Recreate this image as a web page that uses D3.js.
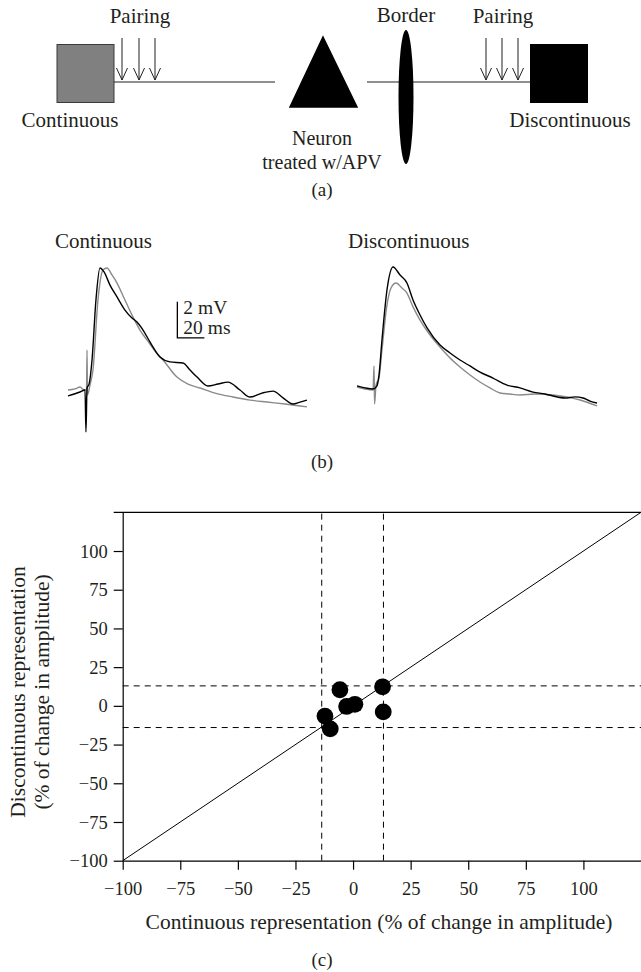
<!DOCTYPE html>
<html><head><meta charset="utf-8">
<script src="https://cdn.jsdelivr.net/npm/d3@7"></script>
<style>
body{margin:0;background:#fff}
svg{display:block}
text{font-family:"Liberation Serif","DejaVu Serif",serif;fill:#231f20}
</style>
</head><body>
<svg id="fig" width="641" height="972"></svg>
<script>
// ---------- Panel (c) data ----------
const xTicks = [-100, -75, -50, -25, 0, 25, 50, 75, 100];
const yTicks = [-100, -75, -50, -25, 0, 25, 50, 75, 100];
const axisDomain = [-100, 125];
const xThresholds = [-13.6, 13.2];
const yThresholds = [-14.0, 12.9];
const continuousChange    = [-5.7, 12.8, -2.8, 0.8, 13.1, -12.2, -9.9];
const discontinuousChange = [10.4, 12.3, -0.4, 1.0, -3.9, -6.6, -14.9];
const identityLine = [-100, 125];

// ---------- Panel (b) traces: [time ms, mV] ----------
const contBlack = [[0,-0.33],[8.9,-0.11],[12.6,0],[13.3,-2.33],[14.1,0.11],[15.6,0.33],[17.8,1.67],[20.7,5],[23.7,6.78],[26.7,6.56],[31.1,5.83],[36.3,5.17],[42.2,4.44],[47.4,4],[51.1,3.78],[55.6,3.33],[60.7,2.67],[68.1,1.83],[75.6,1.56],[85.2,1.5],[90.4,1.11],[95.6,0.72],[103.7,0.22],[111.1,0.33],[118.5,0.44],[127.4,0],[134.8,-0.39],[143.7,-0.17],[151.9,-0.06],[159.3,-0.44],[166.7,-0.78],[171.9,-0.67],[177,-0.56]];
const contGray = [[0,0],[5.2,0.06],[8.9,0.17],[11.9,0],[13.7,0],[14.1,2.22],[14.4,-0.28],[16.3,0.28],[18.5,1.11],[22.2,5],[25.9,6.67],[28.9,6.78],[32.6,6.39],[36.3,5.94],[42.2,5],[48.1,4.06],[53.3,3.33],[58.5,2.78],[64.4,2.17],[70.4,1.67],[80.7,0.72],[88.9,0.33],[97.8,0.11],[108.9,-0.17],[122.2,-0.39],[134.8,-0.56],[147.4,-0.67],[160.7,-0.78],[177,-0.94]];
const discBlack = [[0,0.17],[5.9,0.06],[11.9,0],[14.8,0.17],[16.3,0.78],[18.5,2.72],[22.2,5.5],[26.7,6.78],[31.9,6.33],[37,5.89],[41.5,4.94],[46.7,4.11],[51.9,3.39],[61.5,2.44],[68.9,2],[76.3,1.61],[83.7,1.28],[91.1,0.94],[100.7,0.61],[111.1,0.22],[120.7,0.06],[130.4,-0.17],[139.3,-0.28],[145.2,-0.39],[154.1,-0.5],[161.5,-0.44],[167.4,-0.5],[172.6,-0.67],[177.8,-0.78]];
const discGray = [[0,0.11],[5.9,0],[11.9,-0.06],[12.6,1.28],[13,-0.83],[14.1,0.22],[16.3,0.61],[18.5,2.17],[22.2,4.67],[25.2,5.61],[28.9,5.89],[33.3,5.61],[37,5.33],[41.5,4.56],[46.7,3.83],[54.1,3],[61.5,2.33],[68.9,1.72],[76.3,1.22],[83.7,0.78],[91.1,0.39],[98.5,0.06],[105.9,-0.22],[113.3,-0.28],[120.7,-0.33],[131.9,-0.28],[145.2,-0.33],[155.6,-0.44],[165.2,-0.61],[177.8,-0.94]];
const scaleBarMV = 2;
const scaleBarMS = 20;

const svg = d3.select("#fig");
const INK = "#231f20";
const FS = 21;

// ================= Panel (a) diagram =================
const a = svg.append("g");
a.append("text").attr("x", 140).attr("y", 23).attr("text-anchor", "middle").attr("font-size", FS).text("Pairing");
a.append("text").attr("x", 503).attr("y", 23).attr("text-anchor", "middle").attr("font-size", FS).text("Pairing");
a.append("text").attr("x", 406).attr("y", 22).attr("text-anchor", "middle").attr("font-size", FS).text("Border");
a.append("rect").attr("x", 57).attr("y", 44.5).attr("width", 57).attr("height", 58)
  .attr("fill", "#808080").attr("stroke", "#3a3a3a").attr("stroke-width", 1);
a.append("rect").attr("x", 530).attr("y", 44).attr("width", 58).attr("height", 59).attr("fill", "#000");
a.append("line").attr("x1", 114).attr("x2", 275).attr("y1", 82).attr("y2", 82).attr("stroke", INK).attr("stroke-width", 1.2);
a.append("line").attr("x1", 367).attr("x2", 530).attr("y1", 82).attr("y2", 82).attr("stroke", INK).attr("stroke-width", 1.2);
function arrows(xs) {
  xs.forEach(x => {
    a.append("line").attr("x1", x).attr("x2", x).attr("y1", 38).attr("y2", 80).attr("stroke", INK).attr("stroke-width", 1);
    a.append("path").attr("d", `M${x-5.5},${68} L${x},${80} L${x+5.5},${68}`).attr("fill", "none").attr("stroke", INK).attr("stroke-width", 1);
  });
}
arrows([122, 139, 155]);
arrows([486, 502, 518]);
a.append("path").attr("d", "M323,37 L357,107 L290,107 Z").attr("fill", "#000").attr("stroke", "#000").attr("stroke-width", 1.5);
a.append("ellipse").attr("cx", 406).attr("cy", 97).attr("rx", 7.5).attr("ry", 67).attr("fill", "#000");
a.append("text").attr("x", 70).attr("y", 127).attr("text-anchor", "middle").attr("font-size", FS).text("Continuous");
a.append("text").attr("x", 570).attr("y", 127).attr("text-anchor", "middle").attr("font-size", FS).text("Discontinuous");
a.append("text").attr("x", 322).attr("y", 145).attr("text-anchor", "middle").attr("font-size", 20).text("Neuron");
a.append("text").attr("x", 322).attr("y", 169).attr("text-anchor", "middle").attr("font-size", 20).text("treated w/APV");
a.append("text").attr("x", 322).attr("y", 196).attr("text-anchor", "middle").attr("font-size", 19).text("(a)");

// ================= Panel (b) traces =================
const tx1 = d3.scaleLinear().domain([0, 178]).range([68, 308.3]);
const ty1 = d3.scaleLinear().domain([-3, 8]).range([444, 246]);
const tx2 = d3.scaleLinear().domain([0, 178]).range([357, 597.3]);
const ty2 = d3.scaleLinear().domain([-3, 8]).range([443, 245]);
const b = svg.append("g");
function trace(data, sx, sy, color, w) {
  b.append("path").datum(data)
    .attr("d", d3.line().curve(d3.curveMonotoneX).x(d => sx(d[0])).y(d => sy(d[1])))
    .attr("fill", "none").attr("stroke", color).attr("stroke-width", w).attr("stroke-linejoin", "round");
}
trace(contGray, tx1, ty1, "#8a8a8a", 1.4);
trace(contBlack, tx1, ty1, "#000", 1.4);
trace(discGray, tx2, ty2, "#8a8a8a", 1.4);
trace(discBlack, tx2, ty2, "#000", 1.4);
b.append("text").attr("x", 55).attr("y", 248).attr("font-size", FS).text("Continuous");
b.append("text").attr("x", 348).attr("y", 248).attr("font-size", FS).text("Discontinuous");
// scale bar
const sbT = 81, sbV = 2.9;
b.append("path")
  .attr("d", `M${tx1(sbT)},${ty1(sbV + scaleBarMV)} L${tx1(sbT)},${ty1(sbV)} L${tx1(sbT + scaleBarMS)},${ty1(sbV)}`)
  .attr("fill", "none").attr("stroke", "#000").attr("stroke-width", 1.3);
b.append("text").attr("x", tx1(sbT) + 6).attr("y", ty1(sbV + scaleBarMV) + 12).attr("font-size", 19.5).text(`${scaleBarMV} mV`);
b.append("text").attr("x", tx1(sbT) + 6).attr("y", ty1(sbV) - 4).attr("font-size", 19.5).text(`${scaleBarMS} ms`);
b.append("text").attr("x", 322).attr("y", 468).attr("text-anchor", "middle").attr("font-size", 19).text("(b)");

// ================= Panel (c) scatter =================
const x = d3.scaleLinear().domain(axisDomain).range([122.7, 641]);
const y = d3.scaleLinear().domain(axisDomain).range([860.7, 512.3]);
const c = svg.append("g");
const tick = 9;

c.append("line").attr("x1", x(axisDomain[0]) - tick).attr("x2", x(axisDomain[1]))
  .attr("y1", y(axisDomain[1])).attr("y2", y(axisDomain[1])).attr("stroke", "#000").attr("stroke-width", 1.2);

xThresholds.forEach(v => c.append("line").attr("x1", x(v)).attr("x2", x(v)).attr("y1", y(axisDomain[0])).attr("y2", y(axisDomain[1]))
  .attr("stroke", "#000").attr("stroke-width", 1).attr("stroke-dasharray", "6,5"));
yThresholds.forEach(v => c.append("line").attr("y1", y(v)).attr("y2", y(v)).attr("x1", x(axisDomain[0])).attr("x2", x(axisDomain[1]))
  .attr("stroke", "#000").attr("stroke-width", 1).attr("stroke-dasharray", "6,5"));

c.append("line").attr("x1", x(identityLine[0])).attr("y1", y(identityLine[0]))
  .attr("x2", x(identityLine[1])).attr("y2", y(identityLine[1])).attr("stroke", "#000").attr("stroke-width", 1);

const fmt = d => (d < 0 ? "\u2212" : "") + Math.abs(d);
const gx = c.append("g").attr("transform", `translate(0,${y(axisDomain[0])})`)
  .call(d3.axisBottom(x).tickValues(xTicks).tickSize(tick).tickSizeOuter(0).tickFormat(fmt));
const gy = c.append("g").attr("transform", `translate(${x(axisDomain[0])},0)`)
  .call(d3.axisLeft(y).tickValues(yTicks).tickSize(tick).tickSizeOuter(0).tickFormat(fmt));
[gx, gy].forEach(g => {
  g.select(".domain").attr("stroke", "#000").attr("stroke-width", 1.2);
  g.selectAll(".tick line").attr("stroke", "#000").attr("stroke-width", 1.2);
  g.selectAll(".tick text").attr("font-family", '"Liberation Serif","DejaVu Serif",serif').attr("font-size", 18.5).attr("fill", INK);
});
gx.selectAll(".tick text").attr("dy", null).attr("y", 34);
gy.selectAll(".tick text").attr("x", -15).attr("dy", "0.33em");

c.selectAll("circle.pt").data(continuousChange.map((v, i) => [v, discontinuousChange[i]]))
  .join("circle").attr("class", "pt")
  .attr("cx", d => x(d[0])).attr("cy", d => y(d[1])).attr("r", 8.4).attr("fill", "#000");

c.append("text").attr("x", 379).attr("y", 929).attr("text-anchor", "middle").attr("font-size", 21.5)
  .text("Continuous representation (% of change in amplitude)");
c.append("text").attr("transform", "translate(25,692) rotate(-90)").attr("text-anchor", "middle").attr("font-size", 21.5)
  .text("Discontinuous representation");
c.append("text").attr("transform", "translate(49,692) rotate(-90)").attr("text-anchor", "middle").attr("font-size", 21.5)
  .text("(% of change in amplitude)");
c.append("text").attr("x", 322).attr("y", 966).attr("text-anchor", "middle").attr("font-size", 19).text("(c)");
</script>
</body></html>
